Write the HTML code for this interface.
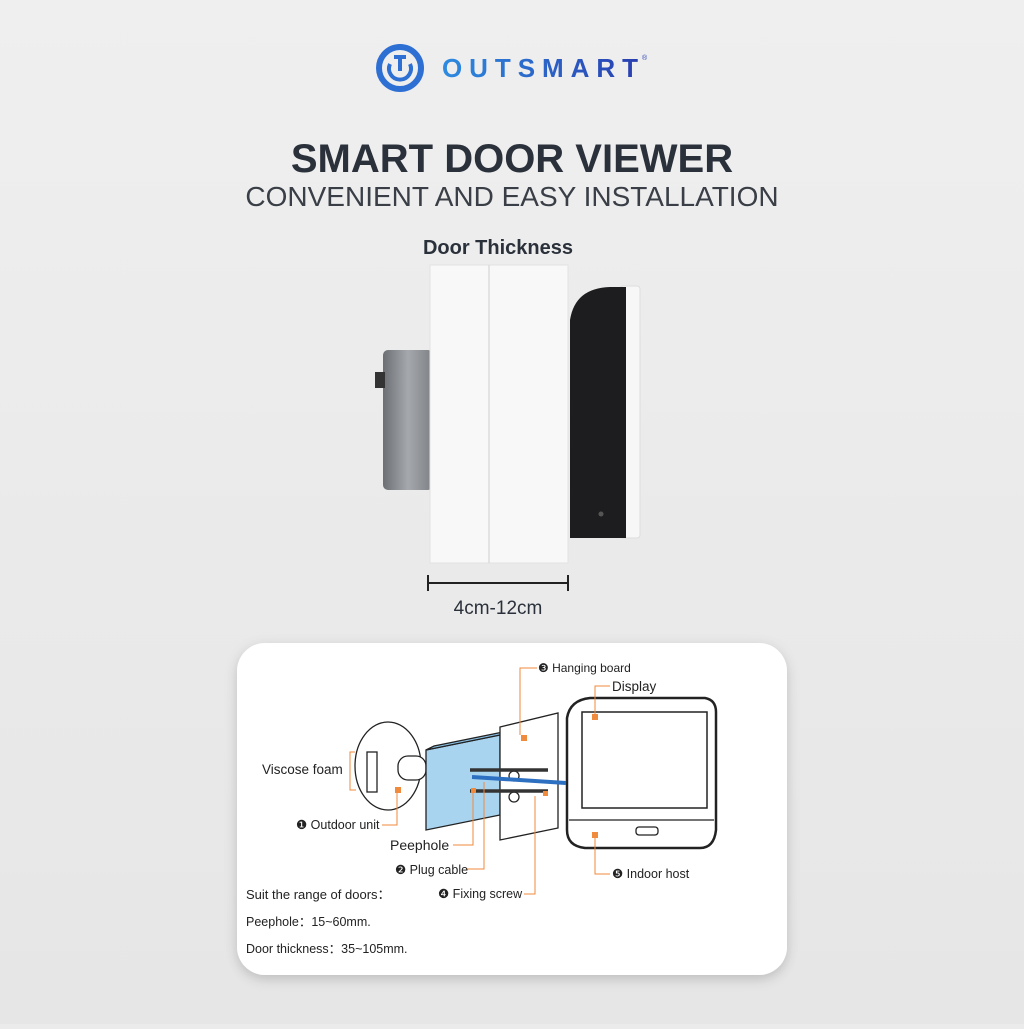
<!DOCTYPE html>
<html><head><style>
body{margin:0;width:1024px;height:1024px;background:#ebebeb;font-family:"Liberation Sans",sans-serif;overflow:hidden}
</style></head><body>
<svg width="1024" height="1024" viewBox="0 0 1024 1024" xmlns="http://www.w3.org/2000/svg" font-family="Liberation Sans, sans-serif">
<defs>
<linearGradient id="bg" x1="0" y1="0" x2="0" y2="1"><stop offset="0" stop-color="#efefef"/><stop offset="1" stop-color="#e6e6e6"/></linearGradient>
<linearGradient id="lg" x1="0" y1="0" x2="1" y2="0"><stop offset="0" stop-color="#2d8be0"/><stop offset="1" stop-color="#2a3fb0"/></linearGradient>
<linearGradient id="gr" x1="0" y1="0" x2="1" y2="0"><stop offset="0" stop-color="#6c6f73"/><stop offset="0.5" stop-color="#a5a8ac"/><stop offset="1" stop-color="#7d8084"/></linearGradient>
<filter id="sh" x="-10%" y="-10%" width="120%" height="130%"><feDropShadow dx="0" dy="4" stdDeviation="6" flood-opacity="0.18"/></filter>
</defs>
<rect width="1024" height="1024" fill="url(#bg)"/>
<!-- logo -->
<circle cx="400" cy="68" r="21" fill="none" stroke="#2e6fd4" stroke-width="6"/>
<path d="M390 64 a11 11 0 1 0 20 0" fill="none" stroke="#2e6fd4" stroke-width="4"/>
<rect x="394" y="55" width="12" height="4" fill="#2e6fd4"/><rect x="398" y="55" width="4" height="16" fill="#2e6fd4"/>
<text x="442" y="77" font-size="26" font-weight="bold" fill="url(#lg)" textLength="196" lengthAdjust="spacing">OUTSMART</text>
<text x="642" y="60" font-size="7" fill="#2a3fb0">®</text>
<!-- titles -->
<text x="512" y="172" font-size="40" font-weight="bold" fill="#2b313b" text-anchor="middle">SMART DOOR VIEWER</text>
<text x="512" y="206" font-size="28" fill="#3a3f47" text-anchor="middle">CONVENIENT AND EASY INSTALLATION</text>
<text x="498" y="254" font-size="20" font-weight="bold" fill="#2b313b" text-anchor="middle">Door Thickness</text>
<!-- door product -->
<rect x="383" y="350" width="50" height="140" rx="5" fill="url(#gr)"/>
<rect x="375" y="372" width="10" height="16" fill="#333"/>
<rect x="430" y="265" width="138" height="298" fill="#f8f8f8" stroke="#e2e2e2"/>
<line x1="489" y1="265" x2="489" y2="563" stroke="#dcdcdc" stroke-width="1.5"/>
<rect x="620" y="286" width="20" height="252" rx="3" fill="#f7f7f7" stroke="#ddd"/>
<path d="M570 320 Q575 288 610 287 L626 287 L626 538 L570 538 Z" fill="#1d1d1f"/>
<circle cx="601" cy="514" r="2.5" fill="#555"/>
<!-- measure -->
<line x1="428" y1="583" x2="568" y2="583" stroke="#222" stroke-width="2"/>
<line x1="428" y1="575" x2="428" y2="591" stroke="#222" stroke-width="2"/>
<line x1="568" y1="575" x2="568" y2="591" stroke="#222" stroke-width="2"/>
<text x="498" y="614" font-size="19" fill="#2b313b" text-anchor="middle">4cm-12cm</text>
<!-- card -->
<rect x="237" y="643" width="550" height="332" rx="28" fill="#fff" filter="url(#sh)"/>
<g stroke="#222" stroke-width="1.3" fill="#fff">
<ellipse cx="388" cy="766" rx="33" ry="44"/>
<rect x="367" y="752" width="10" height="40" fill="#fff"/>
<rect x="398" y="756" width="28" height="24" rx="10"/>
<path d="M426 750 L500 735 L500 815 L426 830 Z" fill="#a8d4f0"/>
<path d="M426 750 L434 746 L508 731 L500 735 Z" fill="#8bc2e6"/>
<path d="M500 727 L558 713 L558 828 L500 840 Z" fill="#fff"/>
<path d="M567 718 Q570 700 590 698 L705 698 Q716 700 716 712 L716 830 Q714 848 700 848 L585 848 Q567 846 567 830 Z" fill="#fff" stroke-width="2.5"/>
<rect x="582" y="712" width="125" height="96" stroke-width="1.5"/>
<rect x="636" y="827" width="22" height="8" rx="3"/>
<line x1="569" y1="820" x2="714" y2="820"/>
<circle cx="514" cy="776" r="5"/><circle cx="514" cy="797" r="5"/>
</g>
<path d="M472 777 L566 783" stroke="#2d6fc0" stroke-width="4"/>
<path d="M470 770 L548 770 M470 791 L548 791" stroke="#333" stroke-width="3.5"/>
<g fill="#f08a3c"><rect x="395" y="787" width="6" height="6"/><rect x="521" y="735" width="6" height="6"/><rect x="592" y="714" width="6" height="6"/><rect x="592" y="832" width="6" height="6"/><rect x="471" y="788" width="5" height="5"/><rect x="543" y="791" width="5" height="5"/></g>
<g stroke="#f08a3c" fill="none" stroke-width="1">
<path d="M355 752 L350 752 L350 790 L356 790"/><path d="M382 825 L397 825 L397 793"/>
<path d="M453 845 L473 845 L473 793"/><path d="M466 869 L484 869 L484 782"/>
<path d="M524 894 L535 894 L535 796"/><path d="M537 668 L520 668 L520 735"/>
<path d="M610 686 L595 686 L595 714"/><path d="M610 874 L595 874 L595 838"/>
</g>
<g font-size="12.5" fill="#222">
<text x="262" y="774" font-size="13.5">Viscose foam</text>
<text x="296" y="829">❶ Outdoor unit</text>
<text x="390" y="850" font-size="14">Peephole</text>
<text x="395" y="874">❷ Plug cable</text>
<text x="438" y="898">❹ Fixing screw</text>
<text x="538" y="672" font-size="12">❸ Hanging board</text>
<text x="612" y="691" font-size="13.5">Display</text>
<text x="612" y="878">❺ Indoor host</text>
<text x="246" y="899" font-size="13">Suit the range of doors：</text>
<text x="246" y="926">Peephole：15~60mm.</text>
<text x="246" y="953">Door thickness：35~105mm.</text>
</g>
</svg>
</body></html>
